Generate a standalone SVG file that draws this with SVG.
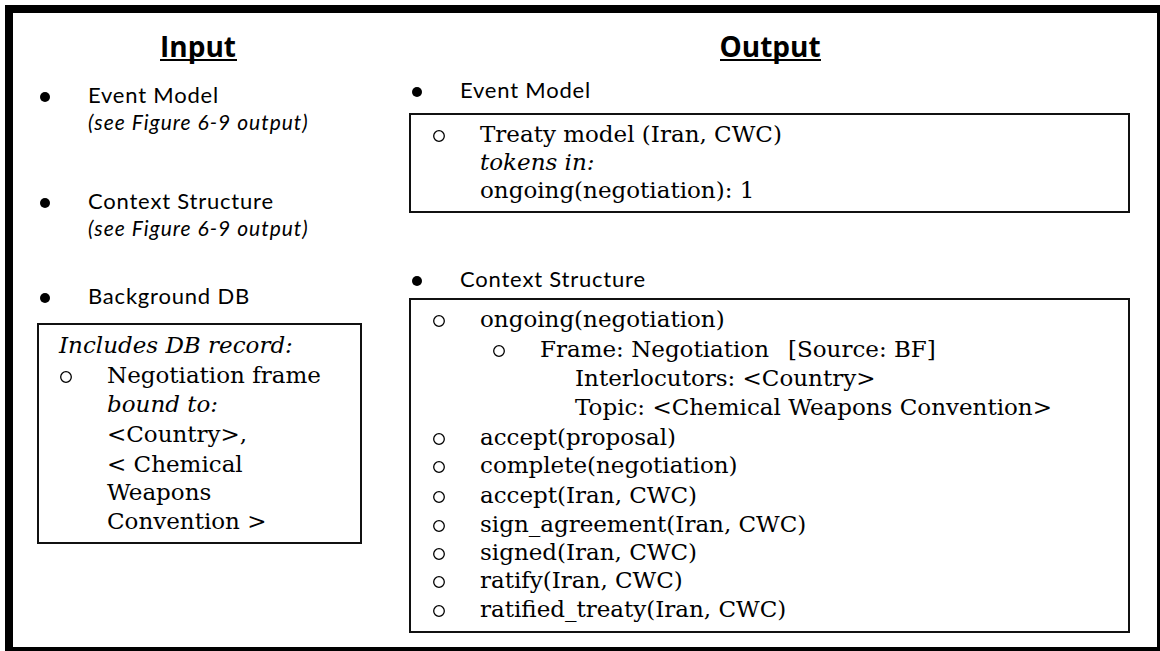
<svg xmlns="http://www.w3.org/2000/svg" width="1160" height="651" viewBox="0 0 1160 651">
<style>
.sans{font-family:Lato,"Open Sans","Liberation Sans",sans-serif;font-size:22px;letter-spacing:0.8px;fill:#000}
.sub{font-family:Lato,"Open Sans","Liberation Sans",sans-serif;font-size:21px;font-style:italic;letter-spacing:1px;fill:#000}
.head{font-family:"Open Sans",Lato,"Liberation Sans",sans-serif;font-size:28px;font-weight:bold;fill:#000}
.it{font-style:italic}
.serif{font-family:"DejaVu Serif","Liberation Serif",serif;font-size:23px;fill:#000}
.box{fill:none;stroke:#111;stroke-width:2}
.dot{fill:#000}
.circ{fill:none;stroke:#000;stroke-width:1.3}
</style>
<rect x="0" y="0" width="1160" height="651" fill="#fff"/>
<rect x="9" y="9" width="1152" height="642" fill="none" stroke="#000" stroke-width="8"/>
<g id="input">
  <text class="head" x="198" y="57" text-anchor="middle">Input</text>
  <line x1="160" y1="60" x2="237" y2="60" stroke="#000" stroke-width="2"/>
  <circle class="dot" cx="45" cy="97" r="5"/>
  <text class="sans" x="88" y="103">Event Model</text>
  <text class="sub" x="88" y="130">(see Figure 6-9 output)</text>
  <circle class="dot" cx="45" cy="203" r="5"/>
  <text class="sans" x="88" y="209">Context Structure</text>
  <text class="sub" x="88" y="236">(see Figure 6-9 output)</text>
  <circle class="dot" cx="45" cy="298" r="5"/>
  <text class="sans" x="88" y="304">Background DB</text>
</g>
<g id="background-db">
  <rect class="box" x="38" y="324" width="323" height="219"/>
  <text class="serif it" x="59" y="353">Includes DB record:</text>
  <circle class="circ" cx="66" cy="377" r="5.3"/>
  <text class="serif" x="107" y="383">Negotiation frame</text>
  <text class="serif it" x="107" y="412">bound to:</text>
  <text class="serif" x="107" y="442">&lt;Country&gt;,</text>
  <text class="serif" x="107" y="472">&lt; Chemical</text>
  <text class="serif" x="107" y="500">Weapons</text>
  <text class="serif" x="107" y="529">Convention &gt;</text>
</g>
<g id="output">
  <text class="head" x="770" y="57" text-anchor="middle">Output</text>
  <line x1="720" y1="60" x2="821" y2="60" stroke="#000" stroke-width="2"/>
  <circle class="dot" cx="417" cy="92" r="5"/>
  <text class="sans" x="460" y="98">Event Model</text>
  <circle class="dot" cx="417" cy="281" r="5"/>
  <text class="sans" x="460" y="287">Context Structure</text>
</g>
<g id="event-model">
  <rect class="box" x="410" y="114" width="719" height="98"/>
  <circle class="circ" cx="439" cy="136" r="5.3"/>
  <text class="serif" x="480" y="142">Treaty model (Iran, CWC)</text>
  <text class="serif it" x="480" y="170">tokens in:</text>
  <text class="serif" x="480" y="198">ongoing(negotiation): 1</text>
</g>
<g id="context-structure">
  <rect class="box" x="410" y="299" width="719" height="333"/>
  <circle class="circ" cx="439" cy="321" r="5.3"/>
  <text class="serif" x="480" y="327">ongoing(negotiation)</text>
  <circle class="circ" cx="499" cy="351" r="5.3"/>
  <text class="serif" x="540" y="357">Frame: Negotiation</text>
  <text class="serif" x="788" y="357">[Source: BF]</text>
  <text class="serif" x="575" y="386">Interlocutors: &lt;Country&gt;</text>
  <text class="serif" x="575" y="415">Topic: &lt;Chemical Weapons Convention&gt;</text>
  <circle class="circ" cx="439" cy="439" r="5.3"/>
  <text class="serif" x="480" y="445">accept(proposal)</text>
  <circle class="circ" cx="439" cy="467" r="5.3"/>
  <text class="serif" x="480" y="473">complete(negotiation)</text>
  <circle class="circ" cx="439" cy="497" r="5.3"/>
  <text class="serif" x="480" y="503">accept(Iran, CWC)</text>
  <circle class="circ" cx="439" cy="526" r="5.3"/>
  <text class="serif" x="480" y="532">sign_agreement(Iran, CWC)</text>
  <circle class="circ" cx="439" cy="554" r="5.3"/>
  <text class="serif" x="480" y="560">signed(Iran, CWC)</text>
  <circle class="circ" cx="439" cy="582" r="5.3"/>
  <text class="serif" x="480" y="588">ratify(Iran, CWC)</text>
  <circle class="circ" cx="439" cy="611" r="5.3"/>
  <text class="serif" x="480" y="617">ratified_treaty(Iran, CWC)</text>
</g>
</svg>
